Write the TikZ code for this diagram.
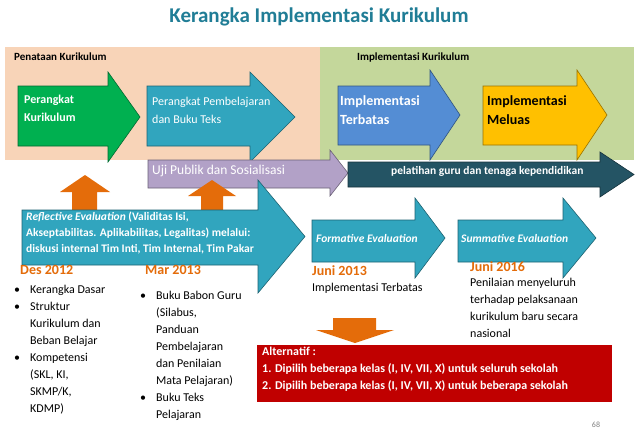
\documentclass[tikz,border=0pt]{standalone}
\usepackage{fontspec}
\setmainfont{Carlito}
\definecolor{peach}{RGB}{248,212,184}
\definecolor{lgreen}{RGB}{196,215,155}
\definecolor{agreen}{RGB}{0,176,80}
\definecolor{ateal}{RGB}{49,165,190}
\definecolor{ablue}{RGB}{84,141,212}
\definecolor{ayellow}{RGB}{255,192,0}
\definecolor{alav}{RGB}{178,161,199}
\definecolor{adark}{RGB}{36,84,100}
\definecolor{aorange}{RGB}{228,108,10}
\definecolor{ared}{RGB}{192,0,0}
\definecolor{ttl}{RGB}{32,125,150}
\newcommand{\arrshape}[9]{% name,x1,ytop,ybot,xbody,xtip,htop,hbot,color
  \fill[#9,draw=#9!60!black,line width=0.6pt] (#2,#3) -- (#5,#3) -- (#5,#7) -- (#6,{(#7+#8)/2}) -- (#5,#8) -- (#5,#4) -- (#2,#4) -- cycle;
  \coordinate (#1) at (#2,#3);}
\begin{document}
\begin{tikzpicture}[x=1pt,y=-1pt,
  txt/.style={font=\fontsize{12}{14}\selectfont,anchor=north west,inner sep=0pt,align=left},
  wtxt/.style={txt,text=white},
  btxt/.style={txt,font=\fontsize{11}{13}\selectfont\bfseries},
  date/.style={txt,text=aorange,font=\fontsize{14}{16}\selectfont\bfseries}]
\useasboundingbox (0,0) rectangle (638,442);
\fill[white] (0,0) rectangle (638,442);
\node[text=ttl,font=\fontsize{21}{24}\selectfont\bfseries] (title) at (319,17) {Kerangka Implementasi Kurikulum};
\fill[peach] (5,47) rectangle (320,160);
\fill[lgreen] (320,47) rectangle (634,160);
\node[btxt,font=\fontsize{11}{13}\selectfont\bfseries] (pk) at (14,53) {Penataan Kurikulum};
\node[btxt,font=\fontsize{11}{13}\selectfont\bfseries] (ik) at (357,53) {Implementasi Kurikulum};
% top arrows
\arrshape{a1}{18}{86}{146}{108}{140}{72}{162}{agreen}
\arrshape{a2}{147}{86}{146}{250}{295}{72}{162}{ateal}
\arrshape{a3}{338}{86}{145}{430}{460}{70}{160}{ablue}
\arrshape{a4}{483}{86}{145}{577}{607}{70}{160}{ayellow}
\node[wtxt,font=\fontsize{12}{18}\selectfont\bfseries] (t1) at (24,95) {Perangkat\\Kurikulum};
\node[wtxt,font=\fontsize{12}{18}\selectfont] (t2) at (152,97) {Perangkat Pembelajaran\\dan Buku Teks};
\node[wtxt,font=\fontsize{14}{19}\selectfont\bfseries] (t3) at (340,95) {Implementasi\\Terbatas};
\node[txt,font=\fontsize{14}{19}\selectfont\bfseries] (t4) at (487,95) {Implementasi\\Meluas};
% middle band arrows
\arrshape{a5}{148}{160}{188}{330}{348}{150}{196}{alav}
\arrshape{a6}{348}{162}{187}{600}{634}{152}{197}{adark}
\node[wtxt,font=\fontsize{13.5}{15}\selectfont] (t5) at (152,165) {Uji Publik dan Sosialisasi};
\node[wtxt,font=\fontsize{11.5}{13}\selectfont\bfseries] (t6) at (391,166) {pelatihan guru dan tenaga kependidikan};
% orange up arrows
\fill[aorange] (72,210) -- (72,192) -- (60,192) -- (85,175) -- (110,192) -- (97,192) -- (97,210) -- cycle;
\fill[aorange] (201,210) -- (201,196) -- (188,196) -- (212,180) -- (236,196) -- (223,196) -- (223,210) -- cycle;
% evaluation arrows
\arrshape{a7}{22}{210}{265}{258}{305}{180}{293}{ateal}
\arrshape{a8}{312}{220}{262}{415}{445}{198}{278}{ateal}
\arrshape{a9}{458}{220}{262}{563}{596}{198}{278}{ateal}
\node[wtxt,font=\fontsize{11.5}{16}\selectfont\bfseries] (t7) at (26,212) {\textit{Reflective Evaluation} (Validitas Isi,\\Akseptabilitas. Aplikabilitas, Legalitas) melalui:\\diskusi internal Tim Inti, Tim Internal, Tim Pakar};
\node[wtxt,font=\fontsize{11.5}{13}\selectfont\bfseries\itshape] (t8) at (316,234) {Formative Evaluation};
\node[wtxt,font=\fontsize{11.5}{13}\selectfont\bfseries\itshape] (t9) at (461,234) {Summative Evaluation};
% dates and lists
\node[date] (d1) at (20,265) {Des 2012};
\node[date] (d2) at (145,265) {Mar 2013};
\node[date] (d3) at (312,265) {Juni 2013};
\node[date] (d4) at (470,261) {Juni 2016};
\node[txt,font=\fontsize{12}{17}\selectfont] (l1) at (14,281) {%
\begin{tabular}{@{}l@{\hspace{10pt}}l@{}}
\textbullet & Kerangka Dasar\\
\textbullet & Struktur\\
 & Kurikulum dan\\
 & Beban Belajar\\
\textbullet & Kompetensi\\
 & (SKL, KI,\\
 & SKMP/K,\\
 & KDMP)
\end{tabular}};
\node[txt,font=\fontsize{12}{17}\selectfont] (l2) at (140,287) {%
\begin{tabular}{@{}l@{\hspace{10pt}}l@{}}
\textbullet & Buku Babon Guru\\
 & (Silabus,\\
 & Panduan\\
 & Pembelajaran\\
 & dan Penilaian\\
 & Mata Pelajaran)\\
\textbullet & Buku Teks\\
 & Pelajaran
\end{tabular}};
\node[txt] (l3) at (312,283) {Implementasi Terbatas};
\node[txt,font=\fontsize{12}{17}\selectfont] (l4) at (470,278) {Penilaian menyeluruh\\terhadap pelaksanaan\\kurikulum baru secara\\nasional};
% down arrow
\fill[aorange] (333,318) -- (376,318) -- (376,330) -- (394,330) -- (355,343) -- (316,330) -- (333,330) -- cycle;
% red box
\fill[ared] (257,345) rectangle (612,402);
\node[wtxt,font=\fontsize{12}{17}\selectfont\bfseries] (alt) at (262,347) {Alternatif :\\1. Dipilih beberapa kelas (I, IV, VII, X) untuk seluruh sekolah\\2. Dipilih beberapa kelas (I, IV, VII, X) untuk beberapa sekolah};
\node[text=gray,font=\fontsize{8}{9}\selectfont] (pg) at (596,425) {68};
\end{tikzpicture}
\end{document}
